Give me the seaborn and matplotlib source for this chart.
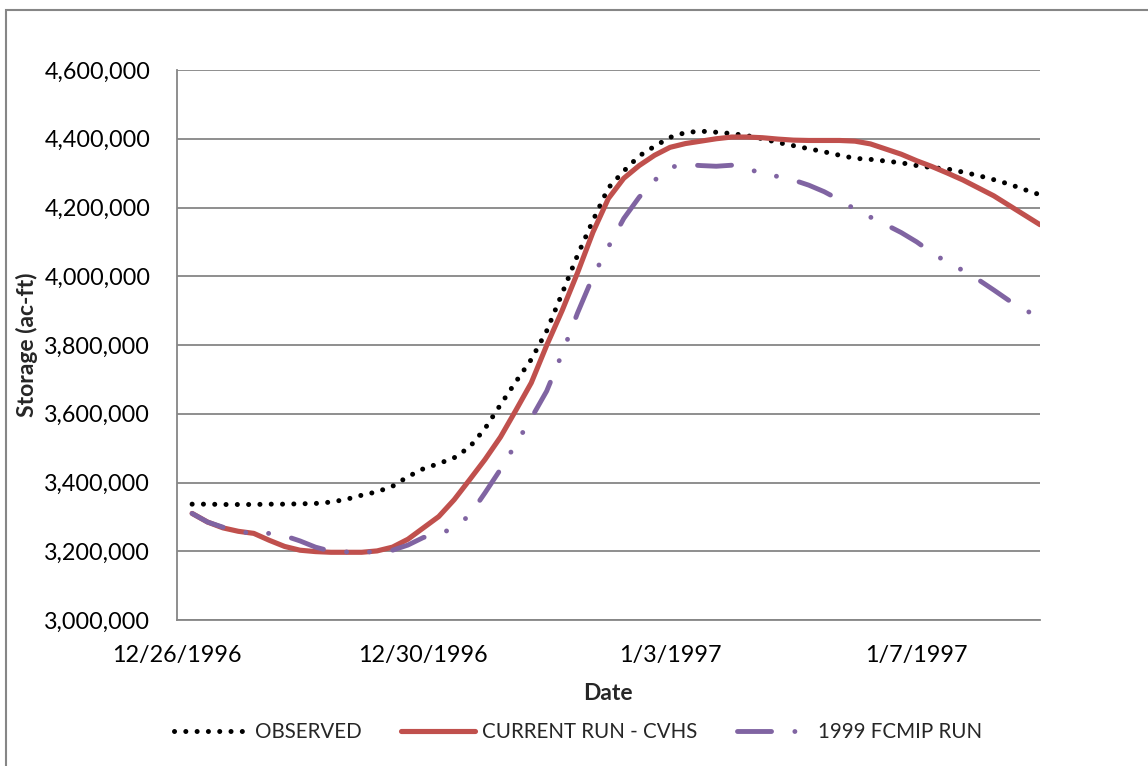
import matplotlib
matplotlib.use("Agg")
import matplotlib.pyplot as plt
import seaborn as sns
import pandas as pd
from matplotlib.patches import Rectangle

# ---------------- data (ac-ft) ----------------
times = pd.date_range("1996-12-26 06:00", "1997-01-09 00:00", freq="6h")

observed = [3337000, 3337000, 3336000, 3336000, 3336000, 3337000, 3337000, 3338000,
            3339000, 3343000, 3351000, 3363000, 3373000, 3389000, 3417000, 3440000,
            3455000, 3472000, 3503000, 3557000, 3626000, 3693000, 3758000, 3841000,
            3950000, 4061000, 4162000, 4257000, 4306000, 4350000, 4378000, 4404000,
            4418000, 4422000, 4419000, 4415000, 4409000, 4400000, 4389000, 4380000,
            4371000, 4362000, 4352000, 4343000, 4340000, 4335000, 4330000, 4322000,
            4316000, 4312000, 4303000, 4293000, 4281000, 4268000, 4252000, 4237000]

current_run = [3310000, 3285000, 3268000, 3258000, 3252000, 3232000, 3214000, 3203000,
               3199000, 3197000, 3197000, 3197000, 3201000, 3212000, 3235000, 3268000,
               3301000, 3350000, 3408000, 3467000, 3532000, 3610000, 3690000, 3799000,
               3900000, 4010000, 4128000, 4226000, 4285000, 4322000, 4352000, 4375000,
               4386000, 4393000, 4400000, 4405000, 4405000, 4403000, 4399000, 4396000,
               4395000, 4395000, 4395000, 4393000, 4385000, 4370000, 4355000, 4336000,
               4319000, 4300000, 4280000, 4257000, 4234000, 4206000, 4178000, 4150000]

fcmip_1999 = [3310000, 3285000, 3270000, 3258000, 3251000, 3252000, 3245000, 3230000,
              3212000, 3200000, 3198000, 3198000, 3198000, 3203000, 3218000, 3240000,
              3250000, 3268000, 3305000, 3370000, 3438000, 3512000, 3587000, 3666000,
              3775000, 3893000, 3999000, 4085000, 4168000, 4230000, 4279000, 4317000,
              4325000, 4322000, 4320000, 4323000, 4312000, 4300000, 4290000, 4280000,
              4265000, 4246000, 4222000, 4195000, 4172000, 4150000, 4127000, 4100000,
              4068000, 4040000, 4017000, 3990000, 3960000, 3929000, 3903000, 3878000]

series_names = ["OBSERVED", "CURRENT RUN - CVHS", "1999 FCMIP RUN"]
x_tick_dates = ["1996-12-26", "1996-12-30", "1997-01-03", "1997-01-07"]
x_tick_labels = ["12/26/1996", "12/30/1996", "1/3/1997", "1/7/1997"]
y_ticks = [3000000, 3200000, 3400000, 3600000, 3800000, 4000000, 4200000, 4400000, 4600000]
y_tick_labels = ["3,000,000", "3,200,000", "3,400,000", "3,600,000", "3,800,000",
                 "4,000,000", "4,200,000", "4,400,000", "4,600,000"]

# ---------------- style ----------------
sns.set_style("white")
plt.rcParams["font.family"] = ["Lato", "DejaVu Sans"]

W, H = 1148, 766
fig = plt.figure(figsize=(W / 100, H / 100), dpi=100)
ax = fig.add_axes([176.7 / W, 1 - 620 / H, (1040 - 176.7) / W, 550 / H])

GRID = "#868686"
colors = ["#000000", "#C0504D", "#8064A2"]
widths = [3.6, 3.7, 3.5]
patterns = [(0.01, 2.25), None, (7.0, 4.8, 0.01, 4.7, 0.01, 4.8)]

for name, vals, c, lw, pat in zip(series_names, [observed, current_run, fcmip_1999],
                                  colors, widths, patterns):
    df = pd.DataFrame({"time": times, "value": vals})
    sns.lineplot(data=df, x="time", y="value", ax=ax, color=c, linewidth=lw,
                 label=name, legend=False)
    ln = ax.lines[-1]
    ln.set_solid_capstyle("round")
    ln.set_solid_joinstyle("round")
    ln.set_dash_capstyle("round")
    ln.set_dash_joinstyle("round")
    if pat is not None:
        ln.set_dashes(pat)

ax.set_xlim(pd.Timestamp("1996-12-26"), pd.Timestamp("1997-01-09"))
ax.set_ylim(3000000, 4600000)
ax.set_xticks(pd.to_datetime(x_tick_dates))
ax.set_xticklabels(x_tick_labels)
ax.set_yticks(y_ticks)
ax.set_yticklabels(y_tick_labels)

ax.grid(axis="y", color=GRID, linewidth=1.3)
ax.grid(axis="x", visible=False)
ax.set_axisbelow(True)
for s in ["top", "right"]:
    ax.spines[s].set_visible(False)
for s in ["left", "bottom"]:
    ax.spines[s].set_color(GRID)
    ax.spines[s].set_linewidth(1.3)

ax.tick_params(axis="both", which="major", direction="out", length=6, width=1.3,
               color=GRID, labelsize=16.8, labelcolor="black")
ax.tick_params(axis="y", pad=13)
ax.tick_params(axis="x", pad=12)

ax.set_xlabel("Date", fontsize=16.5, fontweight="bold")
ax.set_ylabel("Storage (ac-ft)", fontsize=16.5, fontweight="bold")
ax.xaxis.label.set_va("center")
ax.xaxis.set_label_coords(0.5, (620 - 693) / 550)
ax.yaxis.label.set_va("center")
ax.yaxis.set_label_coords((27 - 176.7) / 863.3, 0.5)

handles = ax.lines[:3]
fig.legend(handles, series_names, loc="center", bbox_to_anchor=(578 / W, 1 - 732 / H),
           ncol=3, frameon=False, fontsize=14.8, handlelength=3.6, handletextpad=0.35,
           columnspacing=1.9)

# chart-area border
fig.patches.append(Rectangle((6 / W, -0.05), 1.2, 1.05 - 10 / H, transform=fig.transFigure,
                             fill=False, edgecolor=GRID, linewidth=1.5))

fig.savefig("out.png", dpi=100)
